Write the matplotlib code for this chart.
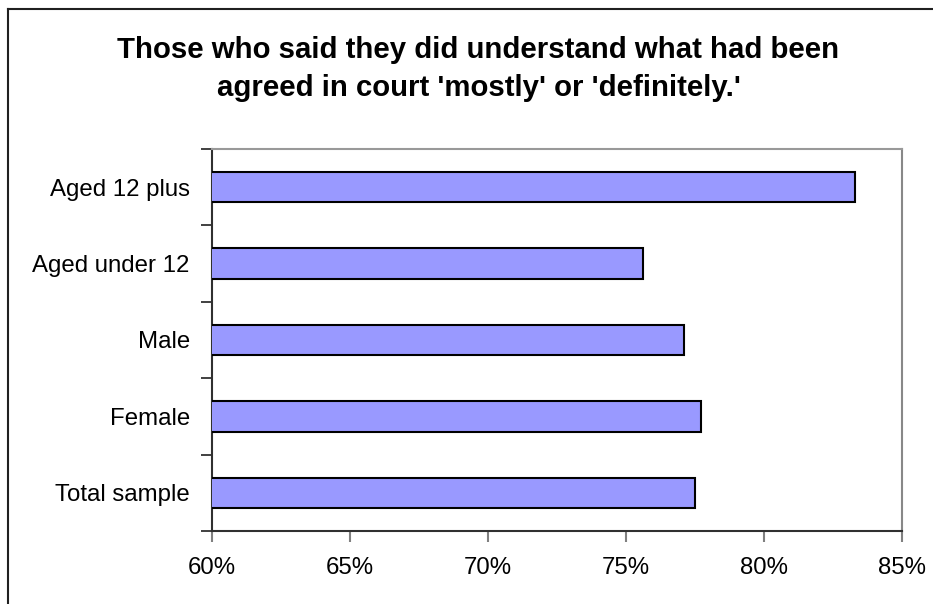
import matplotlib
matplotlib.use("Agg")
import matplotlib.pyplot as plt
from matplotlib.lines import Line2D
from matplotlib.ticker import FixedLocator, FuncFormatter

plt.rcParams['font.family'] = ['Liberation Sans', 'DejaVu Sans']

# Data (bottom to top)
categories = ["Total sample", "Female", "Male", "Aged under 12", "Aged 12 plus"]
values = [77.5, 77.7, 77.1, 75.6, 83.3]
xticks = [60, 65, 70, 75, 80, 85]
title = ("Those who said they did understand what had been\n"
         "agreed in court 'mostly' or 'definitely.'")

W, H = 933, 604
fig = plt.figure(figsize=(W / 100, H / 100), dpi=100)
fig.patch.set_facecolor("white")

# Outer chart frame (left and top edges)
fig.add_artist(Line2D([8 / W, 8 / W], [0, 1 - 9 / H], transform=fig.transFigure,
                      color="#202020", lw=1.5))
fig.add_artist(Line2D([8 / W, 1], [1 - 9 / H, 1 - 9 / H], transform=fig.transFigure,
                      color="#202020", lw=1.5))

left, right = 212 / W, 902 / W
bottom, top = 1 - 531 / H, 1 - 149 / H
ax = fig.add_axes([left, bottom, right - left, top - bottom])

y = list(range(len(categories)))
ax.barh(y, values, height=0.4, left=0, color="#9999FF", edgecolor="black",
        linewidth=1.5, zorder=3)

ax.set_xlim(60, 85)
ax.set_ylim(-0.5, len(categories) - 0.5)

ax.xaxis.set_major_locator(FixedLocator(xticks))
ax.xaxis.set_major_formatter(FuncFormatter(lambda v, p: f"{v:.0f}%"))
ax.tick_params(axis="x", direction="out", length=8, width=1.5, color="#808080",
               labelsize=17.3, pad=11)

ax.set_yticks(y)
ax.set_yticklabels(categories)
ax.set_yticks([i - 0.5 for i in range(len(categories) + 1)], minor=True)
ax.tick_params(axis="y", which="major", length=0, labelsize=17.3, pad=16)
ax.tick_params(axis="y", which="minor", direction="out", length=8, width=1.2,
               color="#202020")

ax.spines["left"].set_color("#303030")
ax.spines["left"].set_linewidth(1.5)
ax.spines["bottom"].set_color("#303030")
ax.spines["bottom"].set_linewidth(1.5)
ax.spines["top"].set_color("#999999")
ax.spines["top"].set_linewidth(1.5)
ax.spines["right"].set_color("#888888")
ax.spines["right"].set_linewidth(1.5)

fig.text(478.5 / W, 1 - 69 / H, title, ha="center", va="center",
         fontsize=21.2, fontweight="bold", linespacing=1.42)

fig.savefig("out.png", dpi=100)
